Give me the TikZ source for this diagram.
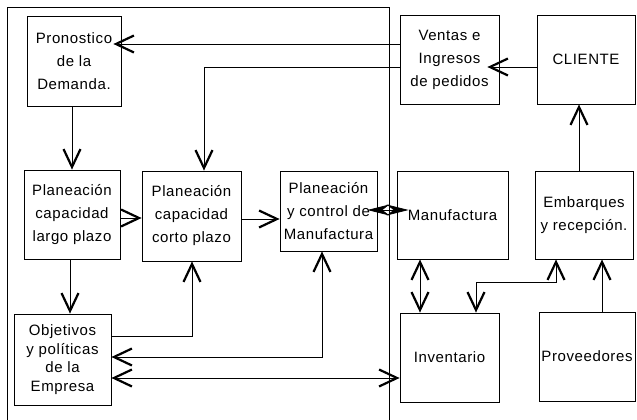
\documentclass[tikz,border=0pt]{standalone}
\usepackage{fontspec}
\setmainfont{Liberation Sans}[LetterSpace=4.0]
\usetikzlibrary{arrows.meta}
\begin{document}
\begin{tikzpicture}[x=1pt,y=-1pt,
  line width=0.8pt,
  font=\fontsize{15}{23}\selectfont,
  box/.style 2 args={draw, minimum width=#1, minimum height=#2, inner sep=1pt, align=center},
  barb/.tip={Straight Barb[length=18pt,width=17pt,line width=2.2pt]},
  slim/.tip={Stealth[length=22pt,width=11pt,inset=7pt]},
  arr/.style={-barb},
  biarr/.style={barb-barb}]
\useasboundingbox (0,0) rectangle (637,420);

% planning area frame (open at the bottom)
\draw (389,420) -- (389,7) -- (7,7) -- (7,420);

% boxes
\node[box={94pt}{90pt}] (pron) at (74,61) {Pronostico\\de la\\Demanda.};
\node[box={99pt}{89pt}] (vent) at (449.5,59.5) {Ventas e\\Ingresos\\de pedidos};
\node[box={98pt}{89pt}] (cli) at (586,59.5) {CLIENTE};
\node[box={96pt}{89pt}] (largo) at (72,214.5) {Planeación\\capacidad\\largo plazo};
\node[box={99pt}{90pt}] (corto) at (191.5,216) {Planeación\\capacidad\\corto plazo};
\node[box={97pt}{80pt}] (ctrl) at (328.5,211) {Planeación\\y control de\\Manufactura};
\node[box={111pt}{88pt}] (manu) at (452.5,215) {Manufactura};
\node[box={98pt}{88pt}] (emb) at (584,215) {Embarques\\y recepción.};
\node[box={97pt}{91pt}, font=\fontsize{15}{18.5}\selectfont] (obj) at (62.5,359.5) {Objetivos\\y políticas\\de la\\Empresa};
\node[box={99pt}{89pt}] (inv) at (449.5,357.5) {Inventario};
\node[box={96pt}{89pt}, inner sep=0pt] (prov) at (587,356.5) {Proveedores};

% routing coordinates
\coordinate (r1) at (0,44);
\coordinate (r2) at (204,67);
\coordinate (r3) at (579,0);
\coordinate (r4) at (70,0);
\coordinate (r5) at (0,218);
\coordinate (r6) at (0,219);
\coordinate (r7) at (0,210);
\coordinate (r8) at (192,336);
\coordinate (r9) at (322,357);
\coordinate (r10) at (0,378);
\coordinate (r11) at (420,0);
\coordinate (r12) at (476,282);
\coordinate (r13) at (556,0);
\coordinate (r14) at (602,0);

% connectors
\draw[arr, shorten >=-8pt] (vent.west |- r1) -- (pron.east |- r1);
\draw[arr] (vent.west |- r2) -| (corto.north -| r2);
\draw[arr, shorten >=-12pt] (cli.west |- r2) -- (vent.east |- r2);
\draw[arr] (emb.north -| r3) -- (cli.south -| r3);
\draw[arr] (pron.south -| largo.north) -- (largo.north);
\draw[arr] (largo.east |- r5) -- (corto.west |- r5);
\draw[arr] (corto.east |- r6) -- (ctrl.west |- r6);
\draw[slim-slim, shorten <=-10pt, shorten >=-12pt] (ctrl.east |- r7) -- (manu.west |- r7);
\draw[arr] (largo.south -| r4) -- (obj.north -| r4);
\draw[arr] (obj.east |- r8) -| (corto.south -| r8);
\draw[biarr] (obj.east |- r9) -| (ctrl.south -| r9);
\draw[biarr] (obj.east |- r10) -- (inv.west |- r10);
\draw[biarr] (manu.south -| r11) -- (inv.north -| r11);
\draw[biarr] (inv.north -| r12) |- (r12) -| (emb.south -| r13);
\draw[arr] (prov.north -| r14) -- (emb.south -| r14);
\end{tikzpicture}
\end{document}
